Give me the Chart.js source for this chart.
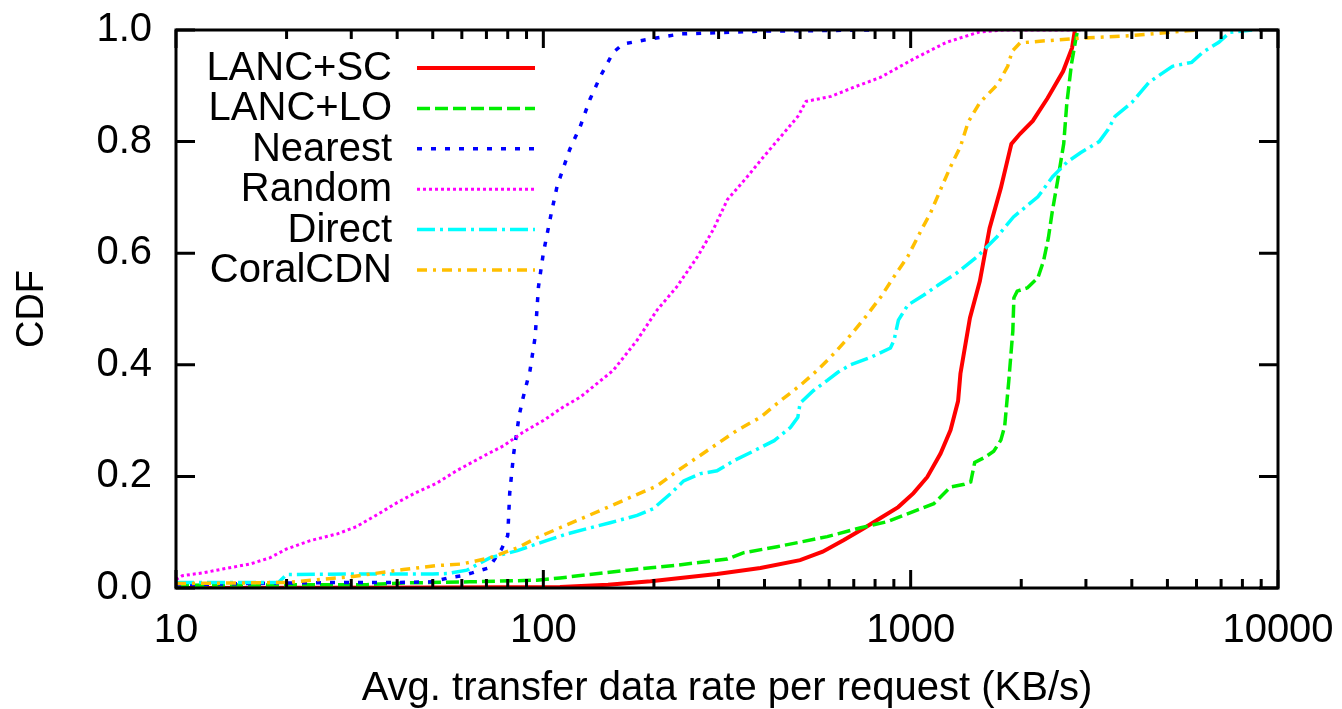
<!DOCTYPE html>
<html><head><meta charset="utf-8">
<script src="https://cdn.jsdelivr.net/npm/chart.js@4"></script>
<style>html,body{margin:0;padding:0;background:#fff;overflow:hidden}</style>
</head><body>
<canvas id="c" width="1342" height="709"></canvas>
<script>
const seriesLabels = ['LANC+SC', 'LANC+LO', 'Nearest', 'Random', 'Direct', 'CoralCDN'];

const lancScX = [10, 50, 111, 150, 196, 297, 390, 500, 576, 658, 750, 830, 925, 1018, 1110, 1206, 1284, 1346, 1366, 1450, 1543, 1640, 1760, 1880, 1985, 2150, 2360, 2600, 2750, 2800];
const lancScY = [0, 0.001, 0.002, 0.006, 0.012, 0.025, 0.036, 0.05, 0.065, 0.086, 0.108, 0.126, 0.145, 0.17, 0.199, 0.241, 0.283, 0.335, 0.384, 0.484, 0.55, 0.645, 0.717, 0.796, 0.814, 0.837, 0.878, 0.926, 0.968, 1.0];

const lancLoX = [10, 33, 41.6, 63, 96, 111, 169, 232, 317, 350, 433, 593, 731, 866, 1000, 1156, 1284, 1400, 1457, 1494, 1600, 1683, 1760, 1803, 1849, 1897, 1910, 1950, 2080, 2220, 2300, 2370, 2430, 2520, 2610, 2660, 2740, 2820, 2850];
const lancLoY = [0.005, 0.006, 0.009, 0.011, 0.014, 0.018, 0.032, 0.041, 0.052, 0.063, 0.074, 0.092, 0.108, 0.119, 0.135, 0.151, 0.181, 0.186, 0.19, 0.225, 0.235, 0.245, 0.265, 0.29, 0.37, 0.46, 0.52, 0.532, 0.538, 0.556, 0.586, 0.627, 0.675, 0.735, 0.796, 0.867, 0.939, 0.986, 1.0];

const nearestX = [10, 20, 30, 40, 50, 55, 60, 64, 71, 77, 80, 81, 83, 86, 88, 92, 95, 97, 100, 105, 109, 118, 126, 134, 143, 155, 165, 196, 236, 400, 800];
const nearestY = [0.006, 0.009, 0.01, 0.01, 0.011, 0.018, 0.022, 0.027, 0.036, 0.07, 0.094, 0.17, 0.24, 0.31, 0.34, 0.39, 0.45, 0.54, 0.60, 0.67, 0.72, 0.786, 0.827, 0.876, 0.917, 0.96, 0.975, 0.984, 0.993, 0.998, 1.0];

const randomX = [10, 10.4, 11.8, 13.4, 15.9, 18, 20, 23.2, 27.5, 31, 35, 40, 45, 51, 58, 69, 78, 88, 100, 113, 126, 155, 180, 204, 231, 263, 290, 317, 359, 398, 443, 493, 519, 607, 698, 827, 1018, 1252, 1530, 1800, 2900];
const randomY = [0.015, 0.022, 0.027, 0.034, 0.043, 0.054, 0.07, 0.085, 0.097, 0.11, 0.13, 0.153, 0.171, 0.187, 0.21, 0.237, 0.255, 0.279, 0.30, 0.324, 0.342, 0.39, 0.444, 0.498, 0.54, 0.594, 0.642, 0.696, 0.737, 0.773, 0.809, 0.845, 0.872, 0.881, 0.897, 0.915, 0.948, 0.978, 0.996, 1.0, 1.0];

const directX = [10, 19, 20, 30, 50, 55, 62, 71.5, 85, 102, 116, 131, 152, 180, 199, 222, 241, 268, 297, 330, 375, 425, 471, 493, 500, 544, 593, 635, 686, 782, 881, 901, 926, 982, 1086, 1189, 1338, 1518, 1721, 1905, 2220, 2435, 2663, 2900, 3260, 3450, 3600, 4000, 4450, 5160, 5820, 6240, 6900, 7400, 8500];
const directY = [0.01, 0.01, 0.024, 0.025, 0.025, 0.026, 0.032, 0.054, 0.067, 0.085, 0.097, 0.106, 0.117, 0.13, 0.142, 0.169, 0.192, 0.205, 0.21, 0.228, 0.246, 0.264, 0.288, 0.306, 0.331, 0.354, 0.372, 0.387, 0.40, 0.414, 0.43, 0.444, 0.48, 0.507, 0.525, 0.543, 0.565, 0.594, 0.63, 0.665, 0.701, 0.737, 0.763, 0.78, 0.80, 0.822, 0.845, 0.87, 0.906, 0.935, 0.942, 0.96, 0.978, 0.996, 1.0];

const coralX = [10, 15, 20, 29.8, 41.6, 51, 60, 71.5, 85, 96, 111, 149, 176, 204, 232, 279, 336, 390, 443, 500, 557, 618, 686, 754, 830, 901, 982, 1070, 1134, 1206, 1284, 1366, 1434, 1543, 1727, 1837, 1890, 1985, 2825, 4000, 6000];
const coralY = [0.008, 0.009, 0.01, 0.02, 0.033, 0.04, 0.043, 0.054, 0.072, 0.09, 0.108, 0.144, 0.165, 0.183, 0.21, 0.246, 0.282, 0.306, 0.336, 0.363, 0.39, 0.42, 0.453, 0.486, 0.522, 0.558, 0.594, 0.642, 0.673, 0.714, 0.755, 0.791, 0.835, 0.87, 0.903, 0.935, 0.962, 0.977, 0.985, 0.99, 1.0];

const xMajorTicks = [10, 100, 1000, 10000];
const xMinorTicks = [20, 30, 40, 50, 60, 70, 80, 90, 200, 300, 400, 500, 600, 700, 800, 900, 2000, 3000, 4000, 5000, 6000, 7000, 8000, 9000];
const yTicks = [0, 0.2, 0.4, 0.6, 0.8, 1.0];

const FONT = 'Liberation Sans, Arial, sans-serif';
const FS = 40;

function pts(xs, ys) { return xs.map((x, i) => ({ x: x, y: ys[i] })); }

const styles = [
  { color: '#ff0000', dash: [], width: 4 },
  { color: '#00ee00', dash: [13, 5], width: 3.5 },
  { color: '#0000ff', dash: [5, 9], width: 3.5 },
  { color: '#ff00ff', dash: [3, 3], width: 3 },
  { color: '#00ffff', dash: [18, 5, 3, 5], width: 3.5 },
  { color: '#ffbf00', dash: [10, 6, 3, 6], width: 3.5 }
];
const seriesData = [pts(lancScX, lancScY), pts(lancLoX, lancLoY), pts(nearestX, nearestY), pts(randomX, randomY), pts(directX, directY), pts(coralX, coralY)];

const datasets = seriesLabels.map((lab, i) => ({
  label: lab,
  data: seriesData[i],
  borderColor: styles[i].color,
  backgroundColor: styles[i].color,
  borderDash: styles[i].dash,
  borderWidth: styles[i].width,
  pointRadius: 0,
  tension: 0,
  fill: false,
  order: 6 - i
}));

const framePlugin = {
  id: 'frame',
  afterDatasetsDraw(chart) {
    const ctx = chart.ctx, a = chart.chartArea;
    const xs = chart.scales.x, ys = chart.scales.y;
    ctx.save();
    ctx.strokeStyle = '#000';
    ctx.lineWidth = 3;
    ctx.setLineDash([]);
    ctx.beginPath();
    xMajorTicks.forEach(v => {
      const p = xs.getPixelForValue(v);
      ctx.moveTo(p, a.bottom); ctx.lineTo(p, a.bottom - 18);
      ctx.moveTo(p, a.top); ctx.lineTo(p, a.top + 18);
    });
    xMinorTicks.forEach(v => {
      const p = xs.getPixelForValue(v);
      ctx.moveTo(p, a.bottom); ctx.lineTo(p, a.bottom - 9);
      ctx.moveTo(p, a.top); ctx.lineTo(p, a.top + 9);
    });
    yTicks.forEach(v => {
      const p = ys.getPixelForValue(v);
      ctx.moveTo(a.left, p); ctx.lineTo(a.left + 19, p);
      ctx.moveTo(a.right, p); ctx.lineTo(a.right - 19, p);
    });
    ctx.stroke();
    ctx.strokeRect(a.left, a.top, a.right - a.left, a.bottom - a.top);

    // legend
    ctx.font = FS + 'px ' + FONT;
    ctx.textAlign = 'right';
    ctx.textBaseline = 'middle';
    ctx.fillStyle = '#000';
    chart.data.datasets.forEach((ds, i) => {
      const y = 68 + i * 40.4;
      ctx.fillText(ds.label, 392, y + 1);
      ctx.strokeStyle = ds.borderColor;
      ctx.lineWidth = ds.borderWidth;
      ctx.setLineDash(ds.borderDash);
      ctx.beginPath();
      ctx.moveTo(417, y); ctx.lineTo(535, y);
      ctx.stroke();
    });
    ctx.restore();
  }
};

new Chart(document.getElementById('c'), {
  type: 'line',
  data: { datasets: datasets },
  options: {
    responsive: false,
    animation: false,
    devicePixelRatio: 1,
    layout: { padding: { left: 0, right: 64, top: 30, bottom: 0 } },
    plugins: { legend: { display: false }, tooltip: { enabled: false } },
    scales: {
      x: {
        type: 'logarithmic', min: 10, max: 10000,
        grid: { display: false, drawTicks: false },
        border: { display: false },
        afterBuildTicks: s => { s.ticks = xMajorTicks.map(v => ({ value: v })); },
        afterFit: s => { s.height = 121; s.paddingLeft = 0; s.paddingRight = 0; },
        ticks: { autoSkip: false, maxRotation: 0, padding: 19, color: '#000', font: { family: FONT, size: FS }, callback: v => String(v) },
        title: { display: true, text: 'Avg. transfer data rate per request (KB/s)', color: '#000', font: { family: FONT, size: FS, lineHeight: 1 }, padding: 0 }
      },
      y: {
        min: 0, max: 1,
        grid: { display: false, drawTicks: false },
        border: { display: false },
        afterBuildTicks: s => { s.ticks = yTicks.map(v => ({ value: v })); },
        afterFit: s => { s.width = 176; s.paddingTop = 0; s.paddingBottom = 0; },
        ticks: { padding: 24, color: '#000', font: { family: FONT, size: FS }, callback: v => Number(v).toFixed(1) },
        title: { display: true, text: 'CDF', color: '#000', font: { family: FONT, size: 38 }, padding: { top: 10, bottom: 0 } }
      }
    }
  },
  plugins: [framePlugin]
});
</script>
</body></html>
